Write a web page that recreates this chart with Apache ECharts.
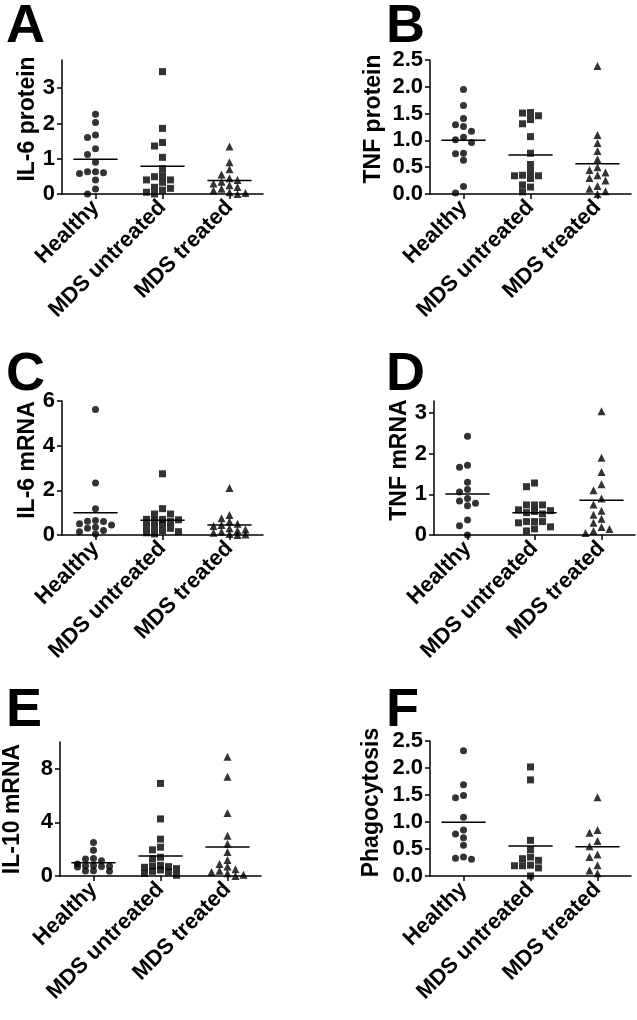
<!DOCTYPE html>
<html>
<head>
<meta charset="utf-8">
<script src="https://cdn.jsdelivr.net/npm/echarts@6.0.0/dist/echarts.min.js"></script>
<style>
  html, body { margin: 0; padding: 0; background: #fff; }
  #chart { width: 637px; height: 1020px; }
</style>
</head>
<body>
<div id="chart"></div>
<script>
// groups on every panel
const categories = ['Healthy', 'MDS untreated', 'MDS treated'];

// A: IL-6 protein
const il6ProteinHealthy = [2.26, 2.03, 1.67, 1.60, 1.28, 1.12, 0.90, 0.63, 0.60, 0.63, 0.58, 0.40, 0.14, 0.0];
const il6ProteinUntreated = [3.47, 1.86, 1.46, 1.36, 1.04, 0.72, 0.52, 0.49, 0.40, 0.40, 0.33, 0.19, 0.16, 0.11, 0.05, 0.0];
const il6ProteinTreated = [1.35, 0.90, 0.70, 0.55, 0.45, 0.40, 0.35, 0.30, 0.25, 0.20, 0.15, 0.10, 0.05, 0.03, 0.0];
const il6ProteinTicks = [0, 1, 2, 3];

// B: TNF protein
const tnfProteinHealthy = [1.95, 1.65, 1.41, 1.29, 1.26, 1.17, 1.06, 1.01, 0.96, 0.76, 0.75, 0.63, 0.14, 0.02];
const tnfProteinUntreated = [1.52, 1.51, 1.46, 1.39, 1.31, 1.07, 0.76, 0.55, 0.42, 0.35, 0.34, 0.34, 0.29, 0.17, 0.13, 0.04];
const tnfProteinTreated = [2.39, 1.10, 0.95, 0.80, 0.65, 0.50, 0.45, 0.40, 0.35, 0.30, 0.25, 0.15, 0.10, 0.05, 0.0];
const tnfProteinTicks = [0, 0.5, 1.0, 1.5, 2.0, 2.5];

// C: IL-6 mRNA
const il6MrnaHealthy = [5.62, 2.33, 1.18, 0.65, 0.62, 0.60, 0.50, 0.45, 0.35, 0.30, 0.20, 0.15, 0.05];
const il6MrnaUntreated = [2.74, 1.18, 0.94, 0.94, 0.70, 0.70, 0.68, 0.65, 0.60, 0.50, 0.40, 0.35, 0.30, 0.20, 0.15, 0.10, 0.05];
const il6MrnaTreated = [2.10, 0.90, 0.75, 0.60, 0.50, 0.45, 0.40, 0.30, 0.25, 0.20, 0.15, 0.10, 0.05, 0.02, 0.0];
const il6MrnaTicks = [0, 2, 4, 6];

// D: TNF mRNA
const tnfMrnaHealthy = [2.43, 1.72, 1.67, 1.30, 1.12, 1.06, 0.90, 0.84, 0.78, 0.72, 0.37, 0.23, 0.0];
const tnfMrnaUntreated = [1.28, 1.19, 0.74, 0.74, 0.74, 0.62, 0.60, 0.58, 0.55, 0.52, 0.33, 0.33, 0.30, 0.33, 0.20, 0.15, 0.10];
const tnfMrnaTreated = [3.05, 1.90, 1.55, 1.25, 1.10, 0.90, 0.75, 0.60, 0.50, 0.40, 0.30, 0.20, 0.15, 0.10, 0.05];
const tnfMrnaTicks = [0, 1, 2, 3];

// E: IL-10 mRNA
const il10MrnaHealthy = [2.50, 1.93, 1.31, 1.26, 1.14, 0.90, 0.78, 0.74, 0.72, 0.70, 0.68, 0.40, 0.37, 0.35];
const il10MrnaUntreated = [6.91, 4.26, 2.75, 2.15, 1.95, 1.40, 1.29, 0.80, 0.75, 0.70, 0.65, 0.55, 0.45, 0.35, 0.30, 0.20, 0.05];
const il10MrnaTreated = [8.90, 7.40, 4.70, 3.00, 2.40, 1.80, 1.20, 0.90, 0.70, 0.50, 0.40, 0.30, 0.20, 0.10, 0.0];
const il10MrnaTicks = [0, 4, 8];

// F: Phagocytosis
const phagoHealthy = [2.32, 1.69, 1.49, 1.45, 1.09, 0.85, 0.78, 0.71, 0.57, 0.35, 0.33, 0.31];
const phagoUntreated = [2.02, 1.78, 0.66, 0.49, 0.35, 0.32, 0.29, 0.20, 0.19, 0.19, 0.15, 0.0];
const phagoTreated = [1.46, 0.85, 0.80, 0.65, 0.55, 0.40, 0.35, 0.20, 0.10, 0.05];
const phagoTicks = [0, 0.5, 1.0, 1.5, 2.0, 2.5];

const panels = [
  { letter: 'A', name: 'IL-6 protein', max: 3.8, ticks: il6ProteinTicks, digits: 0,
    groups: [il6ProteinHealthy, il6ProteinUntreated, il6ProteinTreated] },
  { letter: 'B', name: 'TNF protein', max: 2.5, ticks: tnfProteinTicks, digits: 1,
    groups: [tnfProteinHealthy, tnfProteinUntreated, tnfProteinTreated] },
  { letter: 'C', name: 'IL-6 mRNA', max: 6, ticks: il6MrnaTicks, digits: 0,
    groups: [il6MrnaHealthy, il6MrnaUntreated, il6MrnaTreated] },
  { letter: 'D', name: 'TNF mRNA', max: 3.3, ticks: tnfMrnaTicks, digits: 0,
    groups: [tnfMrnaHealthy, tnfMrnaUntreated, tnfMrnaTreated] },
  { letter: 'E', name: 'IL-10 mRNA', max: 10, ticks: il10MrnaTicks, digits: 0,
    groups: [il10MrnaHealthy, il10MrnaUntreated, il10MrnaTreated] },
  { letter: 'F', name: 'Phagocytosis', max: 2.5, ticks: phagoTicks, digits: 1,
    groups: [phagoHealthy, phagoUntreated, phagoTreated] }
];

// where each panel sits on the page
const layout = [
  { left: 62, top: 60, height: 134, nameGap: 18, nameShift: 16, lx: 6, ly: 0 },
  { left: 430, top: 60, height: 134, nameGap: 45, nameShift: 16, lx: 386, ly: 0 },
  { left: 62, top: 401, height: 134, nameGap: 22, nameShift: 16, lx: 6, ly: 348 },
  { left: 434, top: 401, height: 134, nameGap: 22, nameShift: 16, lx: 386, ly: 348 },
  { left: 60, top: 742, height: 134, nameGap: 36, nameShift: 0, lx: 6, ly: 684 },
  { left: 430, top: 741, height: 135, nameGap: 47, nameShift: 12, lx: 386, ly: 684 }
];
const plotWidth = 201;
const symbols = ['circle', 'rect', 'triangle'];
const symbolSizes = [7, 7, 8];
const FONT = 'Liberation Sans, Arial, sans-serif';

// spread points sideways in columns (at most 2 each side), overlapping when crowded
function swarm(vals, center, pxPerUnit) {
  const stepX = 8 / (plotWidth / 3);
  const cols = [0, -1, 1, -2, 2];
  const placed = [];
  const sorted = vals.slice().sort((a, b) => b - a);
  sorted.forEach(v => {
    let best = cols[0], bestGap = -1;
    for (const c of cols) {
      const near = placed.filter(p => p.c === c).map(p => Math.abs(p.v - v) * pxPerUnit);
      const gap = near.length ? Math.min(...near) : Infinity;
      if (gap >= 6.5) { best = c; bestGap = gap; break; }
      if (gap > bestGap) { best = c; bestGap = gap; }
    }
    placed.push({ v, c: best });
  });
  return placed.map(p => [center + p.c * stepX, p.v]);
}

const grid = [], xAxis = [], yAxis = [], series = [], title = [];

panels.forEach((p, i) => {
  const L = layout[i];
  grid.push({ left: L.left, top: L.top, width: plotWidth, height: L.height });
  title.push({
    text: p.letter, left: L.lx, top: L.ly, padding: 0,
    textStyle: { fontSize: 54, fontWeight: 'bold', fontFamily: FONT, color: '#000' }
  });
  xAxis.push({
    gridIndex: i, type: 'value', min: 0.5, max: 3.5,
    splitLine: { show: false },
    axisLine: { show: true, onZero: false, lineStyle: { color: '#000', width: 1.5 } },
    axisTick: { show: true, customValues: [1, 2, 3], length: 5, lineStyle: { color: '#000', width: 1.5 } },
    axisLabel: {
      customValues: [1, 2, 3], rotate: 45, margin: 10,
      formatter: v => categories[Math.round(v) - 1],
      fontSize: 22, fontWeight: 'bold', fontFamily: FONT, color: '#000'
    }
  });
  yAxis.push({
    gridIndex: i, type: 'value', min: 0, max: p.max,
    name: p.name, nameLocation: 'middle', nameGap: L.nameGap,
    nameTextStyle: {
      fontSize: 23, fontWeight: 'bold', fontFamily: FONT, color: '#000',
      padding: [0, 0, 0, L.nameShift]
    },
    splitLine: { show: false },
    axisLine: { show: true, lineStyle: { color: '#000', width: 1.5 } },
    axisTick: { show: true, customValues: p.ticks, length: 5, lineStyle: { color: '#000', width: 1.5 } },
    axisLabel: {
      customValues: p.ticks, margin: 7,
      formatter: v => v.toFixed(p.digits),
      fontSize: 22, fontWeight: 'bold', fontFamily: FONT, color: '#000'
    }
  });
  const pxPerUnit = L.height / p.max;
  p.groups.forEach((vals, g) => {
    const center = g + 1;
    series.push({
      type: 'scatter', xAxisIndex: i, yAxisIndex: i,
      symbol: symbols[g], symbolSize: symbolSizes[g],
      itemStyle: { color: '#000' }, silent: true,
      data: swarm(vals, center, pxPerUnit)
    });
    const mean = vals.reduce((a, b) => a + b, 0) / vals.length;
    series.push({
      type: 'line', xAxisIndex: i, yAxisIndex: i, symbol: 'none', silent: true,
      lineStyle: { color: '#000', width: 1.5 },
      data: [[center - 0.33, mean], [center + 0.33, mean]]
    });
  });
});

const chart = echarts.init(document.getElementById('chart'), null, { renderer: 'canvas' });
chart.setOption({ animation: false, title, grid, xAxis, yAxis, series });
</script>
</body>
</html>
